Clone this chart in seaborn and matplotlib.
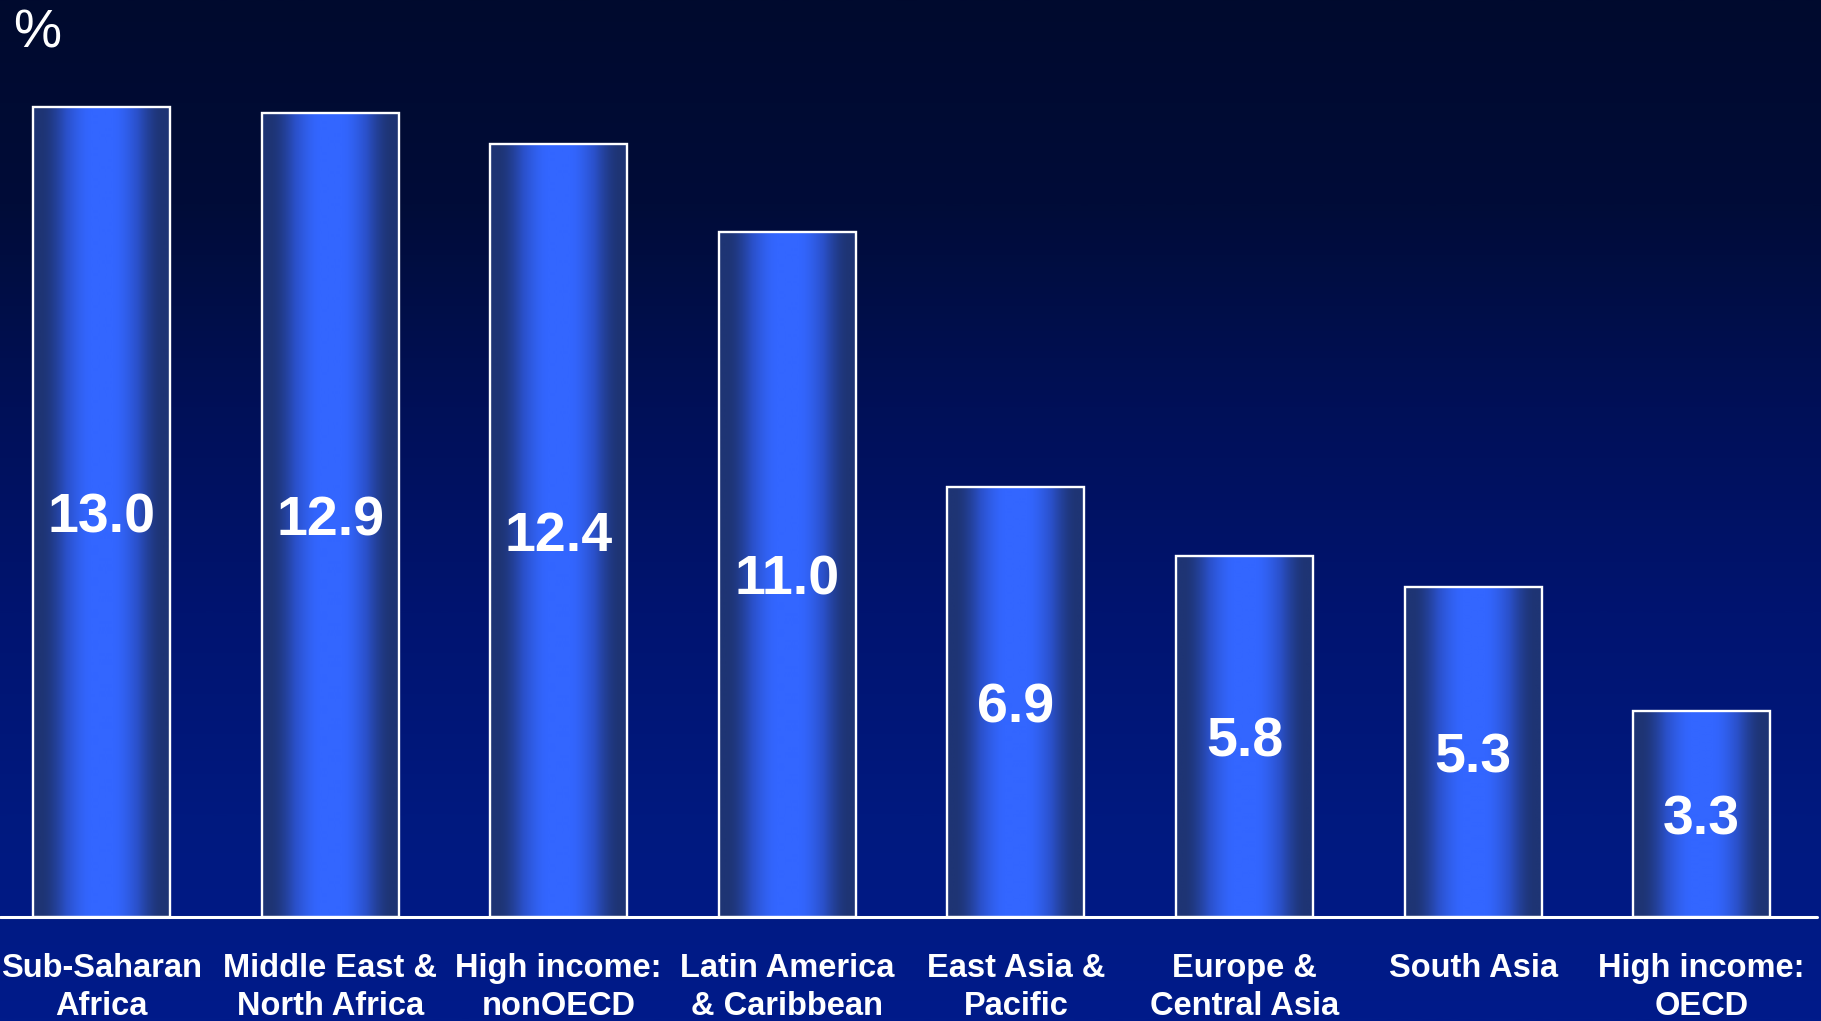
import numpy as np
import matplotlib
matplotlib.use("Agg")
import matplotlib.pyplot as plt
import seaborn as sns
from matplotlib import font_manager
from matplotlib.colors import LinearSegmentedColormap

# Regional values (%)
regions = [
    "Sub-Saharan\nAfrica",
    "Middle East &\nNorth Africa",
    "High income:\nnonOECD",
    "Latin America\n& Caribbean",
    "East Asia &\nPacific",
    "Europe &\nCentral Asia",
    "South Asia",
    "High income:\nOECD",
]
values = [13.0, 12.9, 12.4, 11.0, 6.9, 5.8, 5.3, 3.3]
value_labels = ["13.0", "12.9", "12.4", "11.0", "6.9", "5.8", "5.3", "3.3"]
unit_label = "%"

sns.set_theme(style="white")
plt.rcParams["font.family"] = ["Liberation Sans", "DejaVu Sans"]

installed = {f.name for f in font_manager.fontManager.ttflist}
if "Liberation Sans Narrow" in installed:
    tick_family, tick_size = ["Liberation Sans Narrow", "Liberation Sans"], 27
else:
    tick_family, tick_size = ["Liberation Sans", "DejaVu Sans"], 23.5

W, H, DPI = 1821, 1021, 100
fig = plt.figure(figsize=(W / DPI, H / DPI), dpi=DPI)

# vertical background gradient, dark navy at the top to royal navy at the bottom
bg = fig.add_axes([0, 0, 1, 1], zorder=0)
bg_cmap = LinearSegmentedColormap.from_list(
    "bg", ["#000a2e", "#000c38", "#001058", "#001470", "#00197f", "#001b8a"])
bg.imshow(np.linspace(0, 1, 512).reshape(-1, 1), aspect="auto", cmap=bg_cmap,
          extent=[0, 1, 0, 1], origin="upper")
bg.set_axis_off()

base_px = 917
ax = fig.add_axes([0, (H - base_px) / H, 1817 / W, base_px / H], zorder=1)
ax.patch.set_alpha(0)

sns.barplot(x=list(range(len(values))), y=values, ax=ax, width=0.6,
            color="#3366ff", edgecolor="white", linewidth=1.7, zorder=3)

# horizontal shading inside each bar: dark edges, bright centre
bar_cmap = LinearSegmentedColormap.from_list("bar", ["#1e3474", "#2a50c8", "#3366ff"])
t = np.linspace(0, 1, 256)
d = np.clip((0.5 - np.abs(t - 0.5) - 0.05) / 0.38, 0, 1)
profile = (d * d * (3 - 2 * d)).reshape(1, -1)
for patch in ax.patches:
    x0, w, h = patch.get_x(), patch.get_width(), patch.get_height()
    im = ax.imshow(profile, cmap=bar_cmap, aspect="auto", vmin=0, vmax=1,
                   extent=[x0, x0 + w, 0, h], zorder=2, interpolation="bilinear")
    im.set_clip_path(patch)
    patch.set_facecolor("none")

px_per_unit = 62.3
ax.set_xlim(-101.5 / 228.6, (1817 - 101.5) / 228.6)
ax.set_ylim(0, base_px / px_per_unit)

for i, (v, lab) in enumerate(zip(values, value_labels)):
    ax.annotate(lab, (i, v / 2), xytext=(0, -14.5), textcoords="offset points",
                ha="center", va="baseline", color="white", fontsize=40,
                fontweight="bold", zorder=5)

ax.axhline(0, color="white", lw=2.2, clip_on=False, zorder=6)
for s in ax.spines.values():
    s.set_visible(False)
ax.set_yticks([])
ax.set_xticks(range(len(regions)))
ax.set_xticklabels(regions, color="white", fontsize=tick_size, fontweight="bold",
                   family=tick_family, linespacing=1.3)
ax.tick_params(axis="x", length=0, pad=26)
ax.set_xlabel("")
ax.set_ylabel("")

fig.text(13 / W, (H - 47) / H, unit_label, color="white", fontsize=39,
         ha="left", va="baseline")

fig.savefig("out.png", dpi=DPI)
